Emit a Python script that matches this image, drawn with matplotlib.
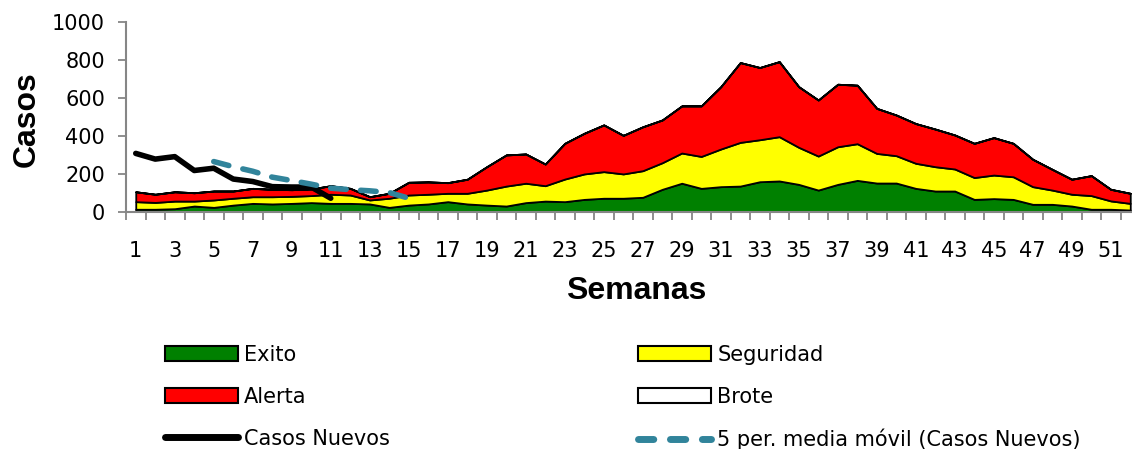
import numpy as np
import matplotlib
matplotlib.use("Agg")
from matplotlib import pyplot as plt
from matplotlib.patches import Patch
from matplotlib.lines import Line2D

semanas = np.arange(1, 53)

# zones of the endemic channel (stacked)
exito = [16, 16, 19, 33, 26, 38, 47, 44, 47, 51, 47, 47, 44, 26, 38, 44, 56, 44, 38, 33,
         51, 59, 56, 68, 74, 74, 79, 121, 153, 126, 135, 138, 161, 165, 147, 117, 147, 168,
         154, 154, 126, 112, 112, 68, 72, 68, 42, 42, 33, 16, 16, 12]
seguridad = [40, 36, 40, 26, 39, 36, 35, 38, 37, 37, 48, 44, 21, 48, 53, 51, 44, 56, 79, 105,
             102, 81, 119, 134, 140, 128, 140, 140, 159, 168, 198, 230, 221, 233, 195, 179,
             198, 193, 156, 144, 132, 128, 116, 115, 124, 119, 93, 75, 62, 72, 44, 35]
alerta = [52, 43, 49, 44, 47, 38, 44, 39, 35, 35, 45, 35, 17, 26, 67, 65, 56, 74, 123, 164,
          154, 114, 188, 214, 246, 203, 231, 225, 248, 266, 328, 420, 380, 395, 319, 295,
          329, 308, 237, 214, 209, 198, 179, 180, 197, 176, 144, 109, 79, 105, 61, 53]
brote = [0] * 52

# observed cases (weeks 1-11) and 5 period moving average (weeks 5-15)
casos_sem = np.arange(1, 12)
casos = [310, 280, 293, 220, 232, 175, 162, 135, 133, 133, 74]
mm_sem = np.arange(5, 16)
media_movil = [267, 240, 216, 185, 167, 148, 127, 119, 113, 104, 74]

plt.rcParams['font.family'] = ['DejaVu Sans']

fig = plt.figure(figsize=(11.32, 4.49), dpi=100)
ax = fig.add_axes([126 / 1132, 1 - 212.3 / 449, 1014 / 1132, 190 / 449])

colores = ['#008000', '#FFFF00', '#FF0000', '#FFFFFF']
ax.stackplot(semanas, exito, seguridad, alerta, brote, colors=colores,
             edgecolor='black', linewidth=1.3)

ax.plot(casos_sem, casos, color='black', lw=4, solid_capstyle='round',
        solid_joinstyle='round', zorder=5)
ax.plot(mm_sem, media_movil, color='#31849B', lw=4, dashes=(2.8, 2.6),
        dash_capstyle='round', zorder=6)

ax.set_xlim(0.5, 52.5)
ax.set_ylim(0, 1000)
ax.set_yticks(range(0, 1001, 200))
ax.set_xticks(range(1, 53, 2))
ax.set_xticks(np.arange(0.5, 53, 1), minor=True)
ax.tick_params(axis='x', which='major', length=0, pad=21, labelsize=15)
ax.tick_params(axis='x', which='minor', length=6, width=1.3, color='#868686')
ax.tick_params(axis='y', length=6, width=1.3, color='#868686', pad=9, labelsize=15)
for s in ['top', 'right']:
    ax.spines[s].set_visible(False)
for s in ['left', 'bottom']:
    ax.spines[s].set_color('#868686')
    ax.spines[s].set_linewidth(1.5)

fig.text(27 / 1132, 1 - 119 / 449, 'Casos', rotation=90, ha='center', va='center',
         fontsize=23, fontweight='bold', family='Liberation Sans')
fig.text(636 / 1132, 1 - 291 / 449, 'Semanas', ha='center', va='center',
         fontsize=23, fontweight='bold', family='Liberation Sans')

h_exito = Patch(facecolor='#008000', edgecolor='black', lw=1.5, label='Exito')
h_alerta = Patch(facecolor='#FF0000', edgecolor='black', lw=1.5, label='Alerta')
h_casos = Line2D([], [], color='black', lw=5, solid_capstyle='round', label='Casos Nuevos')
h_seg = Patch(facecolor='#FFFF00', edgecolor='black', lw=1.5, label='Seguridad')
h_brote = Patch(facecolor='white', edgecolor='black', lw=1.5, label='Brote')
h_mm = Line2D([], [], color='#31849B', lw=5, dashes=(2.2, 2.4), dash_capstyle='round',
              label='5 per. media móvil (Casos Nuevos)')

kw = dict(frameon=False, fontsize=15, handlelength=3.5, handleheight=0.75,
          handletextpad=0.3, labelspacing=1.05, borderpad=0, borderaxespad=0,
          loc='upper left')
fig.legend(handles=[h_exito, h_alerta, h_casos], bbox_to_anchor=(165 / 1132, 1 - 345 / 449), **kw)
fig.legend(handles=[h_seg, h_brote, h_mm], bbox_to_anchor=(638 / 1132, 1 - 345 / 449), **kw)

fig.savefig('out.png', dpi=100)
